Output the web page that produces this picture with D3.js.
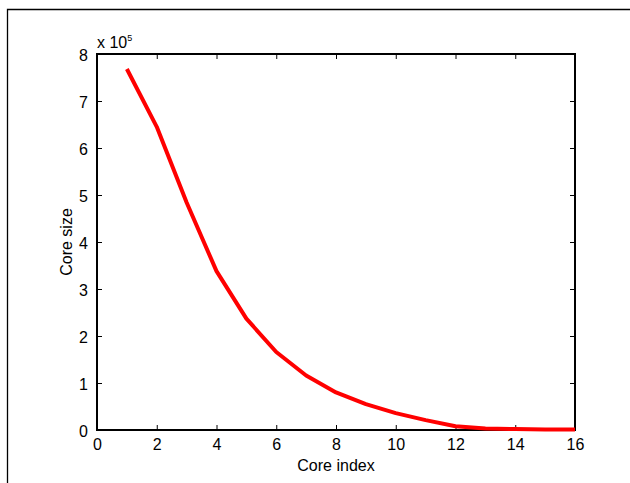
<!DOCTYPE html>
<html>
<head>
<meta charset="utf-8">
<script src="https://cdn.jsdelivr.net/npm/d3@7"></script>
<style>
  body { margin: 0; background: #fff; }
  svg text { font-family: "Liberation Sans", Arial, sans-serif; fill: #000; }
</style>
</head>
<body>
<div id="chart"></div>
<script>
// core index vs core size (in units of 1e5)
var coreIndex = [1, 2, 3, 4, 5, 6, 7, 8, 9, 10, 11, 12, 13, 14, 15, 16];
var coreSize = [7.68, 6.45, 4.84, 3.38, 2.37, 1.66, 1.16, 0.80, 0.55, 0.36, 0.21, 0.08, 0.03, 0.02, 0.01, 0.01];
var xTicks = [0, 2, 4, 6, 8, 10, 12, 14, 16];
var yTicks = [0, 1, 2, 3, 4, 5, 6, 7, 8];

var svg = d3.select("#chart").append("svg").attr("width", 630).attr("height", 483);

var margin = {top: 54, right: 55, bottom: 53, left: 97};
var width = 630 - margin.left - margin.right;
var height = 483 - margin.top - margin.bottom;

// outer figure frame
svg.append("path")
  .attr("d", "M7.5,483 L7.5,9.5 L630,9.5")
  .attr("fill", "none")
  .attr("stroke", "#000")
  .attr("stroke-width", 1.3);

var g = svg.append("g")
  .attr("transform", "translate(" + margin.left + "," + margin.top + ")");

var x = d3.scaleLinear().domain([0, 16]).range([0, width]);
var y = d3.scaleLinear().domain([0, 8]).range([height, 0]);

var tickLen = 5;

// ticks inside the box, on all four sides
var xBottom = g.append("g")
  .attr("transform", "translate(0," + height + ")")
  .call(d3.axisBottom(x).tickValues(xTicks).tickSize(-tickLen).tickPadding(9));
var xTop = g.append("g")
  .call(d3.axisTop(x).tickValues(xTicks).tickSize(-tickLen).tickFormat(""));
var yLeft = g.append("g")
  .call(d3.axisLeft(y).tickValues(yTicks).tickSize(-tickLen).tickPadding(9));
var yRight = g.append("g")
  .attr("transform", "translate(" + width + ",0)")
  .call(d3.axisRight(y).tickValues(yTicks).tickSize(-tickLen).tickFormat(""));

[xBottom, xTop, yLeft, yRight].forEach(function(a) {
  a.select(".domain").remove();
  a.selectAll(".tick line").attr("stroke", "#000").attr("stroke-width", 1);
  a.selectAll(".tick text").attr("font-size", 16).attr("font-family", "Liberation Sans, Arial, sans-serif");
});
yLeft.selectAll(".tick text").attr("dy", "0.4em");

// box
g.append("rect")
  .attr("width", width)
  .attr("height", height)
  .attr("fill", "none")
  .attr("stroke", "#000")
  .attr("stroke-width", 2);

var line = d3.line()
  .x(function(d, i) { return x(coreIndex[i]); })
  .y(function(d) { return y(d); });

g.append("path")
  .datum(coreSize)
  .attr("d", line)
  .attr("fill", "none")
  .attr("stroke", "#ff0000")
  .attr("stroke-width", 4)
  .attr("stroke-linejoin", "round");

// exponent label
var ex = svg.append("text")
  .attr("x", margin.left)
  .attr("y", margin.top - 6)
  .attr("font-size", 16);
ex.append("tspan").text("x 10");
ex.append("tspan").attr("font-size", 9).attr("dy", -7).text("5");

// axis labels
svg.append("text")
  .attr("x", margin.left + width / 2)
  .attr("y", 471)
  .attr("text-anchor", "middle")
  .attr("font-size", 16)
  .text("Core index");

svg.append("text")
  .attr("transform", "translate(72," + (margin.top + height / 2) + ") rotate(-90)")
  .attr("text-anchor", "middle")
  .attr("font-size", 16)
  .text("Core size");
</script>
</body>
</html>
